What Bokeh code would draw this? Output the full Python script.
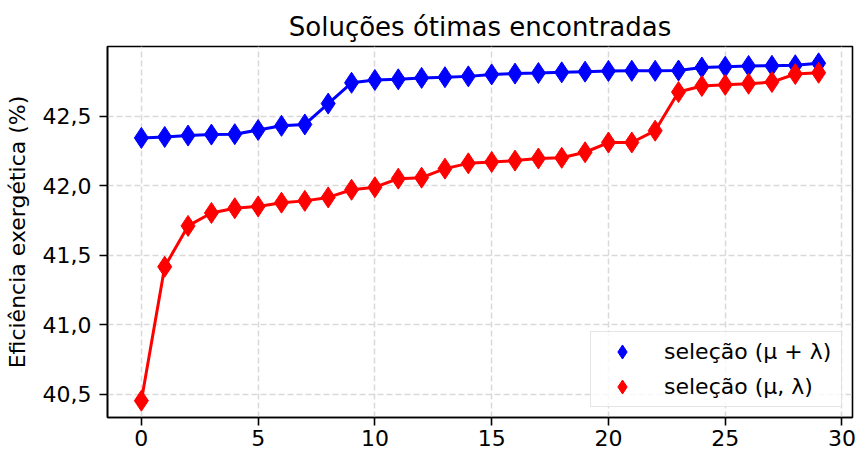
from bokeh.plotting import figure
from bokeh.models import Range1d, FixedTicker, CustomJSTickFormatter, Legend, LegendItem
from bokeh.embed import file_html
from bokeh.resources import INLINE

# ---- data ----
iteracoes = list(range(30))
selecao_mu_mais_lambda = [
    42.343, 42.350, 42.360, 42.367, 42.370, 42.400, 42.430, 42.440, 42.590, 42.740,
    42.760, 42.765, 42.775, 42.780, 42.786, 42.800, 42.806, 42.810, 42.815, 42.820,
    42.825, 42.826, 42.826, 42.828, 42.850, 42.855, 42.861, 42.862, 42.866, 42.880,
]
selecao_mu_virgula_lambda = [
    40.452, 41.416, 41.710, 41.803, 41.837, 41.850, 41.877, 41.890, 41.915, 41.970,
    41.988, 42.050, 42.057, 42.122, 42.160, 42.170, 42.180, 42.195, 42.200, 42.240,
    42.310, 42.310, 42.395, 42.673, 42.717, 42.725, 42.733, 42.745, 42.803, 42.812,
]
x_ticks = [0, 5, 10, 15, 20, 25, 30]
y_ticks = [40.5, 41.0, 41.5, 42.0, 42.5]
titulo = "Soluções ótimas encontradas"
rotulo_y = "Eficiência exergética (%)"
rotulos_legenda = ["seleção (μ + λ)", "seleção (μ, λ)"]

FONT = "DejaVu Sans"

p = figure(
    width=860, height=455,
    output_backend="svg", toolbar_location=None,
    x_range=Range1d(-1.45, 30.45), y_range=Range1d(40.331, 43.001),
    min_border_left=107, min_border_right=8, min_border_top=46, min_border_bottom=38,
    title=titulo,
)
p.background_fill_color = "white"
p.border_fill_color = "white"
p.outline_line_color = "black"
p.outline_line_width = 1.6

p.title.text_font = FONT
p.title.text_font_size = "26px"
p.title.text_font_style = "normal"
p.title.text_color = "black"
p.title.align = "center"
p.title.standoff = 10

for ax in (p.xaxis[0], p.yaxis[0]):
    ax.axis_line_color = "black"
    ax.axis_line_width = 1.6
    ax.major_tick_line_color = "black"
    ax.major_tick_line_width = 1.6
    ax.major_tick_in = 0
    ax.major_tick_out = 8
    ax.minor_tick_line_color = None
    ax.major_label_text_font = FONT
    ax.major_label_text_font_size = "22px"
    ax.major_label_text_color = "black"

p.xaxis.ticker = FixedTicker(ticks=x_ticks)
p.yaxis.ticker = FixedTicker(ticks=y_ticks)
p.xgrid.ticker = FixedTicker(ticks=x_ticks)
p.ygrid.ticker = FixedTicker(ticks=y_ticks)
p.yaxis.formatter = CustomJSTickFormatter(code="return tick.toFixed(1).replace('.', ',');")
p.xaxis.major_label_standoff = 4
p.yaxis.major_label_standoff = 8

p.yaxis.axis_label = rotulo_y
p.yaxis.axis_label_text_font = FONT
p.yaxis.axis_label_text_font_size = "22px"
p.yaxis.axis_label_text_font_style = "normal"
p.yaxis.axis_label_text_color = "black"
p.yaxis.axis_label_standoff = 10

for g in (p.xgrid, p.ygrid):
    g.grid_line_color = "#d9d9d9"
    g.grid_line_width = 1.5
    g.grid_line_dash = "6 3"

# series
p.line(iteracoes, selecao_mu_mais_lambda, line_color="#0000ff", line_width=3)
sb = p.scatter(iteracoes, selecao_mu_mais_lambda, marker="diamond", size=21,
               fill_color="#0000ff", line_color="#0000ff")
p.line(iteracoes, selecao_mu_virgula_lambda, line_color="#ff0000", line_width=3)
sr = p.scatter(iteracoes, selecao_mu_virgula_lambda, marker="diamond", size=21,
               fill_color="#ff0000", line_color="#ff0000")

legend = Legend(
    items=[LegendItem(label=rotulos_legenda[0], renderers=[sb]),
           LegendItem(label=rotulos_legenda[1], renderers=[sr])],
    location="bottom_right",
    glyph_width=58, glyph_height=35, spacing=0, padding=2,
    label_standoff=13, label_width=175,
    label_text_font=FONT, label_text_font_size="22px", label_text_color="black",
    border_line_color="#cccccc", border_line_width=1.2,
    background_fill_color="white", background_fill_alpha=0.8,
    margin=10,
)
p.add_layout(legend)

open("out.html", "w").write(file_html(p, INLINE))
